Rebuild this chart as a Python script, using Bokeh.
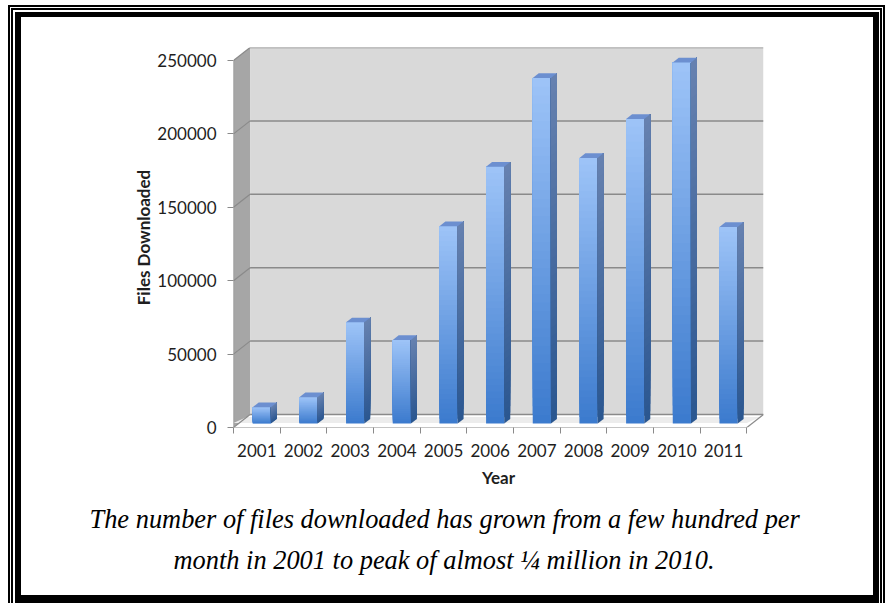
import numpy as np
from bokeh.plotting import figure
from bokeh.models import Range1d, FixedTicker, Title
from bokeh.embed import file_html
from bokeh.resources import INLINE

# ---------------- data ----------------
years = ["2001", "2002", "2003", "2004", "2005", "2006", "2007", "2008", "2009", "2010", "2011"]
downloads = [11200, 18000, 69000, 57000, 134500, 175000, 235500, 181000, 207500, 246000, 134000]
y_ticks = [0, 50000, 100000, 150000, 200000, 250000]
y_tick_labels = ["0", "50000", "100000", "150000", "200000", "250000"]
y_title = "Files Downloaded"
x_title = "Year"
caption_lines = ["The number of files downloaded has grown from a few hundred per",
                 "month in 2001 to peak of almost \u00bc million in 2010."]

# ---------------- layout (pixels) ----------------
W, H = 889, 603
FL, FR, FT, FB = 233, 763, 47, 427      # frame edges
FRONT_W = 513.4                          # px of front category axis
FRONT_H = 367.0                          # px from 0 to top tick on front axis
n = len(years)
ymax = y_ticks[-1]
x_end = n * (FR - FL) / FRONT_W
y_end = ymax * (FB - FT) / FRONT_H
DX = x_end - n          # depth offset (category units)
DY = y_end - ymax       # depth offset (value units)

p = figure(width=W, height=H, output_backend="svg", toolbar_location=None,
           x_range=Range1d(0, x_end), y_range=Range1d(0, y_end),
           min_border_left=FL, min_border_right=W - FR,
           min_border_top=FT, min_border_bottom=H - FB)
p.xgrid.visible = False
p.ygrid.visible = False
p.outline_line_color = None
p.background_fill_color = "white"
p.border_fill_color = None

GRID = "#8a8a8a"
# left wall
p.patch([0, DX, DX, 0], [0, DY, ymax + DY, ymax], fill_color="#a6a6a6", line_color=None)
# back wall
p.quad(left=DX, right=n + DX, bottom=DY, top=ymax + DY, fill_color="#d9d9d9", line_color=None)
# floor
p.patch([0, n, n + DX, DX], [0, 0, DY, DY], fill_color="#ffffff", line_color=None)
p.patch([0.0, n, n + 0.8 * DX, 0.8 * DX], [0.35 * DY, 0.35 * DY, 0.8 * DY, 0.8 * DY],
        fill_color="#ececec", line_color=None)
# gridlines on back wall and left wall
p.segment(x0=[DX] * len(y_ticks), x1=[n + DX] * len(y_ticks),
          y0=[t + DY for t in y_ticks], y1=[t + DY for t in y_ticks],
          line_color=GRID, line_width=1.5)
p.segment(x0=[0] * len(y_ticks), x1=[DX] * len(y_ticks),
          y0=y_ticks, y1=[t + DY for t in y_ticks], line_color=GRID, line_width=1.2)
# floor edges and front axis line
p.segment(x0=[0, n, 0], x1=[n, n + DX, 0], y0=[0, 0, 0], y1=[0, DY, ymax],
          line_color=GRID, line_width=1.2)

# ---------------- bars (3D look) ----------------
F0 = 0.30      # depth position of bar front face
DEP = 0.36     # bar depth fraction
BW = 0.39      # bar front width (category units)
NS = 40

def mix(c0, c1, t):
    a = np.array([int(c0[i:i + 2], 16) for i in (1, 3, 5)], float)
    b = np.array([int(c1[i:i + 2], 16) for i in (1, 3, 5)], float)
    c = a + (b - a) * t
    return "#%02x%02x%02x" % tuple(int(round(v)) for v in c)

fl, fr, fb, ft, fc = [], [], [], [], []
sx, sy, sc = [], [], []
tx, ty = [], []
for i, v in enumerate(downloads):
    cx = i + 0.5 + F0 * DX
    x0, x1 = cx - BW / 2, cx + BW / 2
    y0 = F0 * DY
    top = y0 + v
    ddx, ddy = DEP * DX, DEP * DY
    for k in range(NS):
        b = y0 + v * k / NS
        s = (k + 0.5) / NS
        fl.append(x0); fr.append(x1); fb.append(b); ft.append(top)
        fc.append(mix("#3b7acd", "#9ec4f8", s))
        sx.append([x1, x1 + ddx, x1 + ddx, x1])
        sy.append([b, b + ddy, top + ddy, top])
        sc.append(mix("#2a5690", "#6782b0", s))
    tx.append([x0, x1, x1 + ddx, x0 + ddx])
    ty.append([top, top, top + ddy, top + ddy])

p.quad(left=fl, right=fr, bottom=fb, top=ft, fill_color=fc, line_color=None)
p.patches(sx, sy, fill_color=sc, line_color=None)
p.patches(tx, ty, fill_color="#6c8fd0", line_color=None)

# ---------------- axes ----------------
TXT = "#1e1e1e"
xa = p.xaxis[0]
xa.ticker = FixedTicker(ticks=[i + 0.5 for i in range(n)], minor_ticks=list(range(n + 1)))
xa.major_label_overrides = {i + 0.5: years[i] for i in range(n)}
xa.axis_line_color = None
xa.major_tick_out = 0
xa.major_tick_in = 0
xa.minor_tick_out = 6
xa.minor_tick_in = 0
xa.minor_tick_line_color = GRID
xa.major_label_standoff = 10
xa.major_label_text_font = "Lato"
xa.major_label_text_font_size = "17px"
xa.major_label_text_color = TXT
xa.axis_label = x_title
xa.axis_label_text_font = "Lato"
xa.axis_label_text_font_style = "bold"
xa.axis_label_text_font_size = "17px"
xa.axis_label_text_color = TXT
xa.axis_label_standoff = 7

ya = p.yaxis[0]
ya.ticker = FixedTicker(ticks=y_ticks, minor_ticks=[])
ya.major_label_overrides = {t: l for t, l in zip(y_ticks, y_tick_labels)}
ya.axis_line_color = None
ya.major_tick_out = 6
ya.major_tick_in = 0
ya.major_tick_line_color = GRID
ya.major_label_standoff = 11
ya.major_label_text_font = "Lato"
ya.major_label_text_font_size = "17px"
ya.major_label_text_color = TXT
ya.axis_label = y_title
ya.axis_label_text_font = "Lato"
ya.axis_label_text_font_style = "bold"
ya.axis_label_text_font_size = "17px"
ya.axis_label_text_color = TXT
ya.axis_label_standoff = 0

# ---------------- caption (titles below the x axis) ----------------
caption_left = [89, 173]   # left edge of each caption line (page px)
for j, line in enumerate(caption_lines):
    p.add_layout(Title(text=line, align="left", offset=caption_left[j] - FL,
                       text_font="Liberation Serif", text_font_style="italic",
                       text_font_size="26.4px", text_color="black",
                       standoff=22 if j == 0 else -4), "below")

# ---------------- page border (CSS backgrounds behind transparent canvas) ----------------
rects = [  # x, y, w, h in page pixels
    (8, 5, 2, 598), (8, 5, 877, 2), (883, 5, 2, 598),
    (11, 8, 2, 595), (11, 8, 871, 2), (880, 8, 2, 595),
    (15, 12, 6, 591), (15, 12, 864, 5), (873, 12, 6, 591), (15, 595, 864, 8),
]
bg = ", ".join("linear-gradient(#000,#000) %dpx %dpx / %dpx %dpx no-repeat" % r for r in rects)
p.styles = {"background": bg}

open("out.html", "w").write(file_html(p, INLINE))
